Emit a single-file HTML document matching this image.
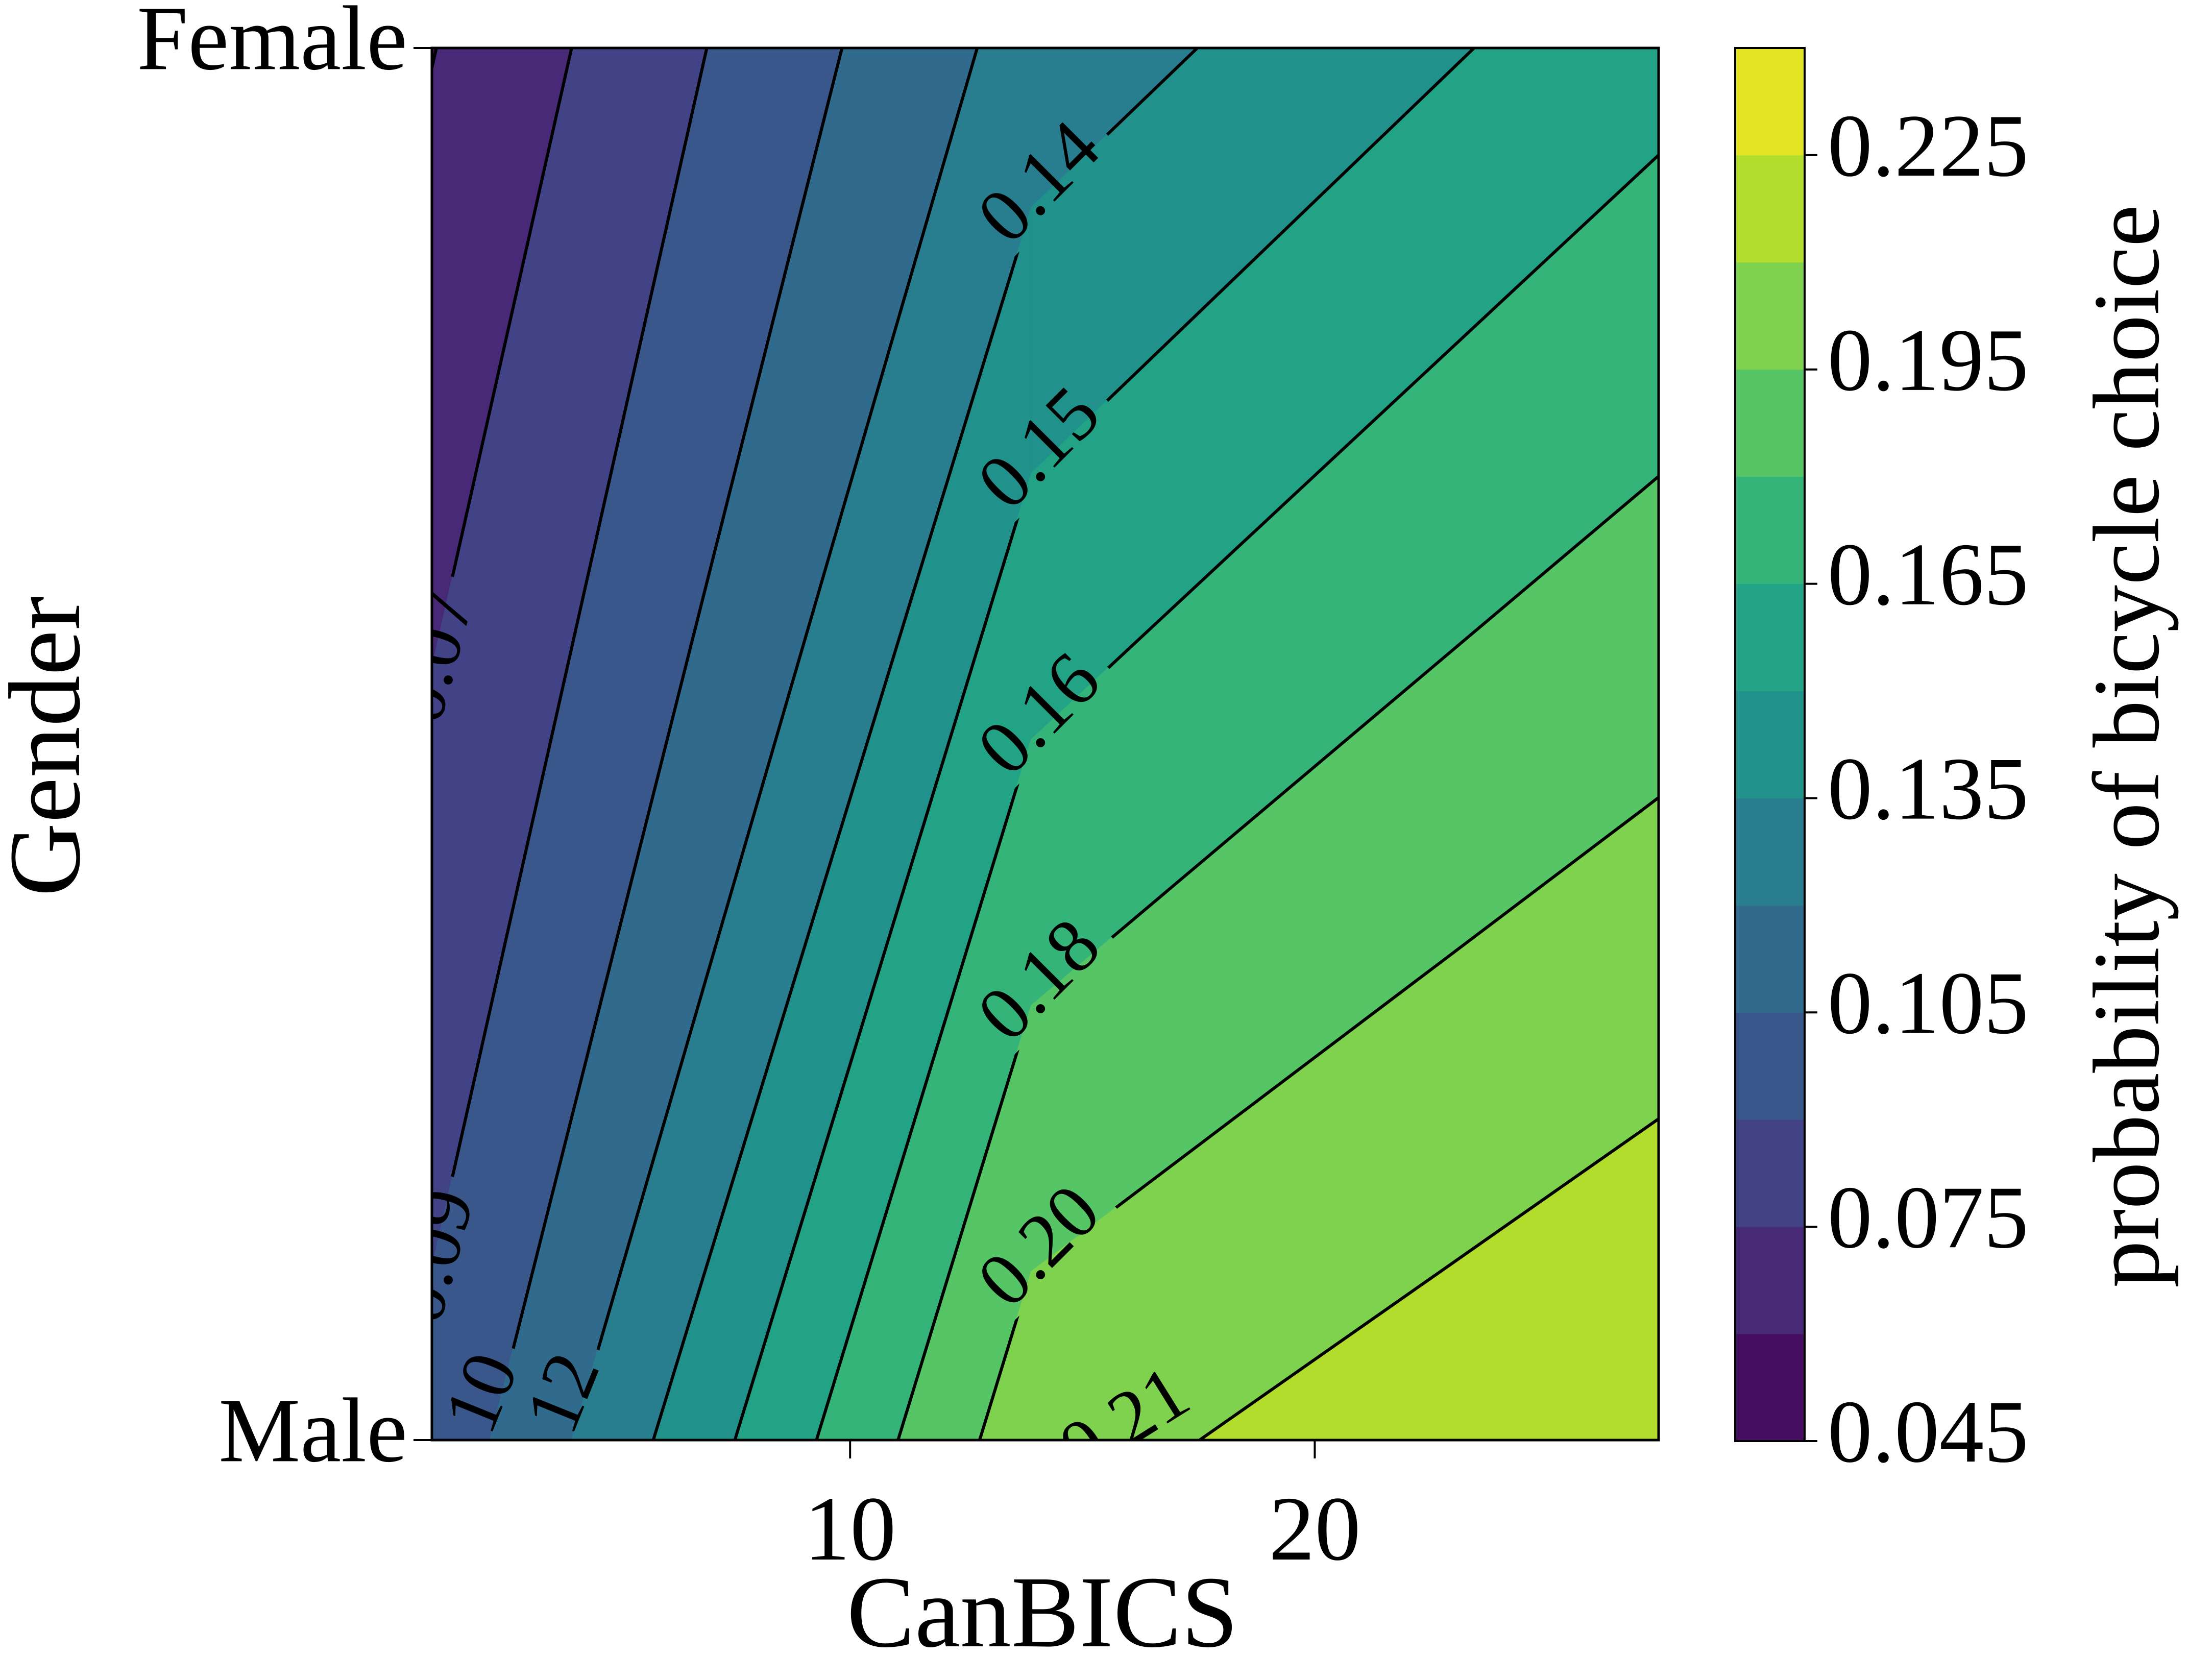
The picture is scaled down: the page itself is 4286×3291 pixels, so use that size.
<!DOCTYPE html>
<html><head><meta charset="utf-8"><style>
html,body{margin:0;padding:0;background:#fff;}
svg{display:block;font-family:"Liberation Serif","DejaVu Serif",serif;}
</style></head><body>
<svg id="chart" width="4286" height="3291" viewBox="0 0 4286 3291" xmlns="http://www.w3.org/2000/svg">
<defs>
<clipPath id="plotclip"><rect x="846" y="94" width="2403" height="2727"/></clipPath>
<mask id="linemask" maskUnits="userSpaceOnUse" x="0" y="0" width="4286" height="3291"><rect x="0" y="0" width="4286" height="3291" fill="#fff"/><g id="maskholes"></g></mask>
</defs>
<rect x="0" y="0" width="4286" height="3291" fill="#fff"/>
<g id="fills" clip-path="url(#plotclip)"></g>
<g clip-path="url(#plotclip)"><g id="lines" mask="url(#linemask)"></g></g>
<g id="clabels" clip-path="url(#plotclip)"></g>
<rect x="846" y="94" width="2403" height="2727" fill="none" stroke="#000" stroke-width="5"/>
<g id="axes"></g>
<g id="cbar"></g>
<text x="109" y="1462" font-size="200" text-anchor="middle" dominant-baseline="middle" transform="rotate(-90 109 1462)">Gender</text>
<text x="2042" y="3225" font-size="200" text-anchor="middle">CanBICS</text>
<text x="4185" y="1462" font-size="185" text-anchor="middle" dominant-baseline="middle" transform="rotate(-90 4185 1462)">probability of bicycle choice</text>
</svg>
<script>
// ---- data ----
const xNodes = [1, 13.9, 27.4];
const zFemale = [0.0595, 0.126, 0.160];
const zMale = [0.0943, 0.2045, 0.225];
const levels = [0.045,0.06,0.075,0.09,0.105,0.12,0.135,0.15,0.165,0.18,0.195,0.21,0.225,0.24];
const levelLabels = ["0.04","0.06","0.07","0.09","0.10","0.12","0.14","0.15","0.16","0.18","0.20","0.21","0.22","0.24"];
const xTicks = [10, 20];
const yTickLabels = ["Male", "Female"];
const cbTicks = [0.045,0.075,0.105,0.135,0.165,0.195,0.225];
const cbTickLabels = ["0.045","0.075","0.105","0.135","0.165","0.195","0.225"];
const labeledLevels = [0.075,0.09,0.105,0.12,0.135,0.15,0.165,0.18,0.195,0.21];

// ---- scales ----
const PX0=846, PX1=3249, PY0=94, PY1=2821;
const X = x => PX0 + (x - xNodes[0]) * (PX1 - PX0) / (xNodes[xNodes.length-1] - xNodes[0]);
const Y = g => PY1 - g * (PY1 - PY0);
const CB0=94, CB1=2823;
const CBY = v => CB1 - (v - levels[0]) / (levels[levels.length-1] - levels[0]) * (CB1 - CB0);

const vir = ["#440154","#482475","#414487","#355f8d","#2a788e","#21918c","#22a884","#44bf70","#7ad151","#bddf26","#fde725"];
function hex(h){return [1,3,5].map(i=>parseInt(h.substr(i,2),16));}
function viridis(t){
  t=Math.max(0,Math.min(1,t)); const f=t*10, i=Math.min(9,Math.floor(f)), r=f-i;
  const a=hex(vir[i]), b=hex(vir[i+1]);
  return "rgb("+a.map((v,k)=>Math.round(v+(b[k]-v)*r)).join(",")+")";
}
const nb = levels.length-1;
const bandColor = i => viridis((i+0.5)/nb);
const NS="http://www.w3.org/2000/svg";
function mk(tag, attrs, parent){const e=document.createElementNS(NS,tag);for(const k in attrs)e.setAttribute(k,attrs[k]);parent.appendChild(e);return e;}

function clip(poly, L, above){
  const out=[]; const ins=v=>above? v.z>=L : v.z<=L;
  for(let i=0;i<poly.length;i++){
    const a=poly[i], b=poly[(i+1)%poly.length];
    const ia=ins(a), ib=ins(b);
    if(ia) out.push(a);
    if(ia!==ib){const t=(L-a.z)/(b.z-a.z); out.push({x:a.x+(b.x-a.x)*t,g:a.g+(b.g-a.g)*t,z:L});}
  }
  return out;
}
const fills=document.getElementById('fills'), linesG=document.getElementById('lines'), labG=document.getElementById('clabels'), holes=document.getElementById('maskholes');
const cells=[];
for(let i=0;i<xNodes.length-1;i++){
  cells.push([{x:xNodes[i],g:1,z:zFemale[i]},{x:xNodes[i+1],g:1,z:zFemale[i+1]},{x:xNodes[i+1],g:0,z:zMale[i+1]},{x:xNodes[i],g:0,z:zMale[i]}]);
}
cells.forEach((cell,ci)=>{
  for(let b=0;b<nb;b++){
    let p=clip(cell,levels[b],true); p=clip(p,levels[b+1],false);
    if(p.length<3) continue;
    const el=mk('polygon',{points:p.map(v=>X(v.x).toFixed(1)+","+Y(v.g).toFixed(1)).join(" "),fill:bandColor(b),stroke:bandColor(b),'stroke-width':2},fills);
    
    
  }
});
// contour lines
const crossings={};
levels.forEach((L,li)=>{
  cells.forEach((cell,ci)=>{
    const pts=[];
    for(let k=0;k<4;k++){const a=cell[k],b=cell[(k+1)%4];
      if((a.z-L)*(b.z-L)<0){const t=(L-a.z)/(b.z-a.z);pts.push({x:a.x+(b.x-a.x)*t,g:a.g+(b.g-a.g)*t,edge:k});}}
    if(pts.length===2){
      const el=mk('line',{x1:X(pts[0].x),y1:Y(pts[0].g),x2:X(pts[1].x),y2:Y(pts[1].g),stroke:'#000','stroke-width':6,'stroke-linecap':'round'},linesG);
      
      
      (crossings[L]=crossings[L]||[]).push({ci,pts});
    }
  });
});
// contour labels
labeledLevels.forEach(L=>{
  const li=levels.indexOf(L); const segs=crossings[L]; if(!segs) return;
  let px,py,rot;
  const c0=segs.find(s=>s.ci===0);
  if(!c0) { const s=segs[0]; const p=s.pts.find(q=>q.edge===2)||s.pts[0]; px=X(p.x)-140; py=Y(p.g)-25; rot=-32; }
  else {
    const right=c0.pts.find(q=>q.edge===1), left=c0.pts.find(q=>q.edge===3), bot=c0.pts.find(q=>q.edge===2);
    if(right){px=X(right.x)+25;py=Y(right.g)-40;rot=-45;}
    else if(left){px=X(left.x)+15;py=Y(left.g)-20;rot=-75;}
    else {px=X(bot.x)-25;py=Y(bot.g)-35;rot=-68;}
  }
  const t=mk('text',{x:px,y:py,'font-size':150,'text-anchor':'middle','dominant-baseline':'middle',transform:'rotate('+rot+' '+px+' '+py+')'},labG);
  t.textContent=levelLabels[li];
  
  
  mk('rect',{x:px-160,y:py-55,width:320,height:110,fill:'#000',transform:'rotate('+rot+' '+px+' '+py+')'},holes);
});
// axes ticks
const ax=document.getElementById('axes');
xTicks.forEach(v=>{
  const l=mk('line',{x1:X(v),x2:X(v),y1:PY1,y2:PY1+36,stroke:'#000','stroke-width':4},ax);
   
  const t=mk('text',{x:X(v),y:3055,'font-size':180,'text-anchor':'middle'},ax); t.textContent=v;
   
});
yTickLabels.forEach((s,g)=>{
  const l=mk('line',{x1:PX0-36,x2:PX0,y1:Y(g),y2:Y(g),stroke:'#000','stroke-width':4},ax);
   
  const t=mk('text',{x:PX0-48,y:Y(g),'font-size':180,'text-anchor':'end','dominant-baseline':'middle'},ax); t.textContent=s;
   
});
// colorbar
const cb=document.getElementById('cbar');
for(let b=0;b<nb;b++){
  const r=mk('rect',{x:3399,y:CBY(levels[b+1]),width:136,height:CBY(levels[b])-CBY(levels[b+1])+0.5,fill:bandColor(b)},cb);
   
}
const fr=mk('rect',{x:3399,y:CB0,width:136,height:CB1-CB0,fill:'none',stroke:'#000','stroke-width':4},cb);
 
cbTicks.forEach((v,i)=>{
  const l=mk('line',{x1:3535,x2:3560,y1:CBY(v),y2:CBY(v),stroke:'#000','stroke-width':4},cb);
   
  const t=mk('text',{x:3580,y:CBY(v),'font-size':175,'dominant-baseline':'middle'},cb); t.textContent=cbTickLabels[i];
   
});
</script>
</body></html>
